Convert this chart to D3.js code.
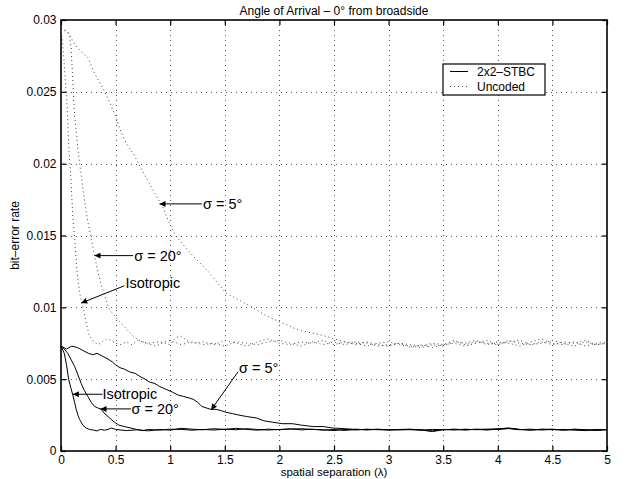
<!DOCTYPE html>
<html>
<head>
<meta charset="utf-8">
<script src="https://cdn.jsdelivr.net/npm/d3@7"></script>
<style>
  body { margin: 0; background: #fff; }
  svg { font-family: "Liberation Sans", Arial, Helvetica, sans-serif; }
</style>
</head>
<body>
<svg id="chart" width="627" height="479"></svg>
<script>
// tick values / labels
var xTicks = [0, 0.5, 1, 1.5, 2, 2.5, 3, 3.5, 4, 4.5, 5];
var xTickLabels = ["0", "0.5", "1", "1.5", "2", "2.5", "3", "3.5", "4", "4.5", "5"];
var yTicks = [0, 0.005, 0.01, 0.015, 0.02, 0.025, 0.03];
var yTickLabels = ["0", "0.005", "0.01", "0.015", "0.02", "0.025", "0.03"];

var legendNames = ["2x2\u2013STBC", "Uncoded"];

// 2x2-STBC (solid) curves, [spacing, ber]
var stbcIso = [[0,0.0073],[0.03,0.0068],[0.05,0.0060],[0.07,0.0050],[0.09,0.0044],[0.108,0.0039],[0.124,0.0034],
  [0.139,0.0029],[0.155,0.0025],[0.17,0.0022],[0.2,0.0018],[0.23,0.0016],[0.26,0.0015],[0.3,0.00145],[0.33,0.0014],
  [0.36,0.0015],[0.4,0.00145],[0.43,0.0015],[0.46,0.0016],[0.5,0.0015],[0.6,0.00142],[0.7,0.00148],[0.8,0.0014],
  [0.9,0.0015],[1.0,0.00145],[1.1,0.00158],[1.2,0.00152],[1.3,0.00148],[1.4,0.00155],[1.5,0.0015],[1.6,0.00158],
  [1.7,0.0015],[1.8,0.00145],[1.9,0.00152],[2.0,0.00148],[2.1,0.00155],[2.2,0.00147],[2.3,0.00152],[2.4,0.00145],
  [2.5,0.0015],[2.6,0.00143],[2.7,0.00152],[2.8,0.00147],[2.9,0.0015],[3.0,0.00145],[3.1,0.0015],[3.2,0.00152],
  [3.3,0.00146],[3.4,0.00135],[3.5,0.00148],[3.6,0.0015],[3.7,0.00146],[3.8,0.00152],[3.9,0.0015],[4.0,0.00155],
  [4.1,0.0016],[4.2,0.0015],[4.3,0.00145],[4.4,0.00152],[4.5,0.00148],[4.6,0.0015],[4.7,0.00145],[4.8,0.00142],
  [4.9,0.0015],[5.0,0.00147]];

var stbc20 = [[0,0.0073],[0.03,0.0071],[0.062,0.0068],[0.09,0.0064],[0.124,0.0059],[0.155,0.0053],[0.185,0.0047],
  [0.215,0.0042],[0.245,0.0038],[0.276,0.0034],[0.307,0.0031],[0.337,0.0030],[0.368,0.0029],[0.4,0.0026],[0.43,0.0024],
  [0.46,0.0022],[0.49,0.0020],[0.53,0.0018],[0.58,0.0017],[0.64,0.0016],[0.7,0.00148],[0.75,0.00142],[0.8,0.0015],
  [0.9,0.00145],[1.0,0.00152],[1.1,0.0015],[1.2,0.00145],[1.3,0.0015],[1.4,0.00146],[1.5,0.00152],[1.6,0.00148],
  [1.7,0.00155],[1.8,0.0015],[1.9,0.00146],[2.0,0.0015],[2.1,0.00152],[2.2,0.00155],[2.3,0.0015],[2.4,0.00148],
  [2.5,0.00142],[2.6,0.0015],[2.7,0.00146],[2.8,0.00152],[2.9,0.00148],[3.0,0.0015],[3.1,0.00146],[3.2,0.0015],
  [3.3,0.00148],[3.4,0.0014],[3.5,0.0015],[3.6,0.00146],[3.7,0.00152],[3.8,0.00148],[3.9,0.00152],[4.0,0.0015],
  [4.1,0.00156],[4.2,0.00148],[4.3,0.00152],[4.4,0.00146],[4.5,0.0015],[4.6,0.00145],[4.7,0.00152],[4.8,0.00148],
  [4.9,0.00145],[5.0,0.0015]];

var stbc5 = [[0,0.0073],[0.05,0.0071],[0.1,0.0073],[0.15,0.0072],[0.2,0.0070],[0.25,0.0068],[0.29,0.0067],[0.33,0.0068],
  [0.38,0.0066],[0.43,0.0064],[0.47,0.0062],[0.5,0.0060],[0.54,0.0058],[0.58,0.0057],[0.63,0.0055],[0.68,0.0054],
  [0.72,0.0052],[0.77,0.0050],[0.81,0.0048],[0.86,0.0047],[0.9,0.0045],[0.96,0.0043],[1.02,0.0041],[1.07,0.0039],
  [1.12,0.0038],[1.17,0.0037],[1.21,0.0036],[1.25,0.0034],[1.29,0.0031],[1.33,0.0030],[1.37,0.0029],[1.42,0.0029],
  [1.47,0.0028],[1.51,0.0027],[1.57,0.0026],[1.63,0.0025],[1.7,0.0024],[1.79,0.0023],[1.86,0.0021],[1.94,0.0020],
  [2.03,0.0019],[2.12,0.0019],[2.2,0.0018],[2.31,0.0017],[2.4,0.0017],[2.49,0.0016],[2.6,0.00155],[2.7,0.0015],
  [2.8,0.00148],[2.9,0.00152],[3.0,0.00147],[3.1,0.0015],[3.2,0.00148],[3.3,0.00145],[3.4,0.0015],[3.5,0.00148],
  [3.6,0.00152],[3.7,0.00148],[3.8,0.0015],[3.9,0.00146],[4.0,0.00152],[4.1,0.00158],[4.2,0.0015],[4.3,0.00146],
  [4.4,0.0015],[4.5,0.00152],[4.6,0.00146],[4.7,0.0015],[4.8,0.00148],[4.9,0.00143],[5.0,0.00148]];

// Uncoded (dotted) curves
var uncIso = [[0,0.0292],[0.01,0.0288],[0.025,0.0274],[0.04,0.0257],[0.057,0.0239],[0.065,0.0223],[0.075,0.0206],
  [0.09,0.0191],[0.108,0.0163],[0.124,0.0149],[0.145,0.0126],[0.17,0.0110],[0.2,0.0101],[0.23,0.0089],[0.26,0.0080],
  [0.3,0.0076],[0.34,0.0074],[0.38,0.0076],[0.42,0.0078],[0.46,0.0077],[0.5,0.0075],[0.55,0.0074],[0.6,0.0076],
  [0.65,0.0074],[0.7,0.0077],[0.8,0.0075],[0.9,0.0076],[1.0,0.0074],[1.05,0.0079],[1.1,0.0080],[1.15,0.0077],
  [1.2,0.0075],[1.3,0.0076],[1.4,0.0074],[1.5,0.0077],[1.6,0.0075],[1.7,0.0073],[1.8,0.0076],[1.9,0.0078],[2.0,0.0075],
  [2.1,0.0074],[2.2,0.0076],[2.3,0.0075],[2.4,0.0077],[2.5,0.0074],[2.6,0.0076],[2.7,0.0075],[2.8,0.0073],[2.9,0.0075],
  [3.0,0.0076],[3.1,0.0074],[3.2,0.0073],[3.3,0.0072],[3.4,0.0074],[3.5,0.0073],[3.6,0.0076],[3.7,0.0075],[3.8,0.0077],
  [3.9,0.0074],[4.0,0.0076],[4.1,0.0075],[4.2,0.0073],[4.3,0.0076],[4.4,0.0078],[4.5,0.0075],[4.6,0.0074],[4.7,0.0076],
  [4.8,0.0073],[4.9,0.0075],[5.0,0.0076]];

var unc20 = [[0,0.0292],[0.03,0.0293],[0.057,0.0292],[0.078,0.0288],[0.093,0.0281],[0.108,0.0257],[0.124,0.0234],
  [0.139,0.0223],[0.154,0.0211],[0.179,0.0195],[0.2,0.0183],[0.215,0.0174],[0.245,0.0160],[0.276,0.0148],[0.307,0.0136],
  [0.337,0.0125],[0.368,0.0116],[0.4,0.0108],[0.44,0.0099],[0.49,0.0094],[0.55,0.0089],[0.61,0.0084],[0.66,0.0080],
  [0.72,0.0077],[0.78,0.0075],[0.87,0.0073],[0.95,0.0076],[1.0,0.0077],[1.1,0.0074],[1.2,0.0076],[1.3,0.0074],
  [1.4,0.0075],[1.5,0.0073],[1.6,0.0076],[1.7,0.0075],[1.8,0.0074],[1.9,0.0076],[2.0,0.0077],[2.1,0.0075],[2.2,0.0073],
  [2.3,0.0076],[2.4,0.0074],[2.5,0.0076],[2.6,0.0074],[2.7,0.0076],[2.8,0.0075],[2.9,0.0073],[3.0,0.0074],[3.1,0.0075],
  [3.2,0.0072],[3.3,0.0074],[3.4,0.0072],[3.5,0.0074],[3.6,0.0075],[3.7,0.0073],[3.8,0.0075],[3.9,0.0077],[4.0,0.0074],
  [4.1,0.0076],[4.2,0.0077],[4.3,0.0074],[4.4,0.0075],[4.5,0.0077],[4.6,0.0075],[4.7,0.0073],[4.8,0.0076],[4.9,0.0074],
  [5.0,0.0075]];

var unc5 = [[0,0.0292],[0.03,0.0293],[0.069,0.0291],[0.124,0.0283],[0.185,0.0278],[0.245,0.0274],[0.3,0.0264],
  [0.35,0.0257],[0.4,0.0250],[0.45,0.0242],[0.5,0.0233],[0.55,0.0222],[0.6,0.0214],[0.67,0.0206],[0.73,0.0197],
  [0.84,0.0182],[0.93,0.0170],[0.99,0.0159],[1.05,0.0150],[1.18,0.0138],[1.36,0.0124],[1.51,0.0110],[1.73,0.0101],
  [1.88,0.0094],[2.03,0.0089],[2.18,0.0084],[2.37,0.0081],[2.46,0.0079],[2.55,0.0077],[2.6,0.0076],[2.7,0.0074],
  [2.8,0.0076],[2.9,0.0074],[3.0,0.0073],[3.1,0.0075],[3.2,0.0074],[3.3,0.0073],[3.4,0.0075],[3.5,0.0074],[3.6,0.0077],
  [3.7,0.0074],[3.8,0.0076],[3.9,0.0075],[4.0,0.0074],[4.1,0.0077],[4.2,0.0075],[4.3,0.0074],[4.4,0.0076],[4.5,0.0074],
  [4.6,0.0076],[4.7,0.0075],[4.8,0.0077],[4.9,0.0074],[5.0,0.0075]];

// annotations: arrow tip, arrow tail, label anchor (data units)
var notes = [
  { label: "\u03c3 = 5\u00b0",  tip: [0.902, 0.0172],  tail: [1.29, 0.0172],  at: [1.30, 0.0172] },
  { label: "\u03c3 = 20\u00b0", tip: [0.307, 0.0136],  tail: [0.66, 0.0136],  at: [0.67, 0.0136] },
  { label: "Isotropic",         tip: [0.185, 0.0103],  tail: [0.58, 0.0115],  at: [0.59, 0.0117] },
  { label: "\u03c3 = 5\u00b0",  tip: [1.375, 0.00286], tail: [1.62, 0.0055],  at: [1.63, 0.0058] },
  { label: "Isotropic",         tip: [0.108, 0.00395], tail: [0.38, 0.00395], at: [0.38, 0.00395] },
  { label: "\u03c3 = 20\u00b0", tip: [0.362, 0.00293], tail: [0.64, 0.00293], at: [0.645, 0.00293] }
];

var margin = { top: 20, left: 61, right: 20, bottom: 28 },
    width = 546,
    height = 431;

var svg = d3.select("#chart");

var x = d3.scaleLinear().domain([0, 5]).range([0, width]);
var y = d3.scaleLinear().domain([0, 0.03]).range([height, 0]);

var g = svg.append("g")
    .attr("transform", "translate(" + margin.left + "," + margin.top + ")");

// grid
g.append("g").selectAll("line")
    .data(xTicks.slice(1, -1))
  .enter().append("line")
    .attr("x1", function(d) { return Math.round(x(d)) + 0.5; })
    .attr("x2", function(d) { return Math.round(x(d)) + 0.5; })
    .attr("y1", 0).attr("y2", height)
    .style("stroke", "#555").style("stroke-dasharray", "1,4");

g.append("g").selectAll("line")
    .data(yTicks.slice(1, -1))
  .enter().append("line")
    .attr("y1", function(d) { return Math.round(y(d)) + 0.5; })
    .attr("y2", function(d) { return Math.round(y(d)) + 0.5; })
    .attr("x1", 0).attr("x2", width)
    .style("stroke", "#555").style("stroke-dasharray", "1,4");

// axes (ticks inward, mirrored on top/right)
var tickLen = 5;
var xAxisB = d3.axisBottom(x).tickValues(xTicks).tickSizeInner(-tickLen).tickSizeOuter(0).tickPadding(4)
    .tickFormat(function(d, i) { return xTickLabels[i]; });
var xAxisT = d3.axisTop(x).tickValues(xTicks).tickSizeInner(-tickLen).tickSizeOuter(0).tickFormat("");
var yAxisL = d3.axisLeft(y).tickValues(yTicks).tickSizeInner(-tickLen).tickSizeOuter(0).tickPadding(4.5)
    .tickFormat(function(d, i) { return yTickLabels[i]; });
var yAxisR = d3.axisRight(y).tickValues(yTicks).tickSizeInner(-tickLen).tickSizeOuter(0).tickFormat("");

function styleAxis(sel) {
  sel.select(".domain").remove();
  sel.selectAll("line").style("stroke", "#000").style("stroke-width", 1.2);
  sel.selectAll("text").style("font-size", "12px").style("fill", "#000")
     .style("font-family", "'Liberation Sans', Arial, Helvetica, sans-serif");
}

g.append("g").attr("transform", "translate(0," + height + ")").call(xAxisB).call(styleAxis);
g.append("g").call(xAxisT).call(styleAxis);
g.append("g").call(yAxisL).call(styleAxis);
g.append("g").attr("transform", "translate(" + width + ",0)").call(yAxisR).call(styleAxis);

g.append("rect")
    .attr("x", 0).attr("y", 0)
    .attr("width", width).attr("height", height)
    .style("fill", "none").style("stroke", "#000").style("stroke-width", 1.6);

// curves
var line = d3.line()
    .x(function(d) { return x(d[0]); })
    .y(function(d) { return y(d[1]); });

var plot = g.append("g");

[uncIso, unc20, unc5].forEach(function(s) {
  plot.append("path")
      .datum(s)
      .attr("d", line)
      .style("fill", "none")
      .style("stroke", "#444")
      .style("stroke-width", 1)
      .style("stroke-dasharray", "1,3");
});

[stbcIso, stbc20, stbc5].forEach(function(s) {
  plot.append("path")
      .datum(s)
      .attr("d", line)
      .style("fill", "none")
      .style("stroke", "#000")
      .style("stroke-width", 1);
});

// arrow annotations
svg.append("defs").append("marker")
    .attr("id", "arrow")
    .attr("viewBox", "0 0 10 10")
    .attr("refX", 10).attr("refY", 5)
    .attr("markerWidth", 9).attr("markerHeight", 6)
    .attr("markerUnits", "userSpaceOnUse")
    .attr("orient", "auto")
  .append("path")
    .attr("d", "M0,0L10,5L0,10z")
    .style("fill", "#000");

var ann = g.append("g").selectAll("g")
    .data(notes)
  .enter().append("g");

ann.append("line")
    .attr("x1", function(d) { return x(d.tail[0]); })
    .attr("y1", function(d) { return y(d.tail[1]); })
    .attr("x2", function(d) { return x(d.tip[0]); })
    .attr("y2", function(d) { return y(d.tip[1]); })
    .style("stroke", "#000")
    .style("stroke-width", 1)
    .attr("marker-end", "url(#arrow)");

ann.append("text")
    .attr("x", function(d) { return x(d.at[0]); })
    .attr("y", function(d) { return y(d.at[1]); })
    .attr("dy", "0.35em")
    .style("font-size", "14.5px")
    .text(function(d) { return d.label; });

// legend
var legend = g.append("g")
    .attr("transform", "translate(" + (443 - margin.left) + "," + (64 - margin.top) + ")");

legend.append("rect")
    .attr("width", 102).attr("height", 31)
    .style("fill", "#fff").style("stroke", "#000").style("stroke-width", 1.2);

legend.selectAll("line")
    .data(legendNames)
  .enter().append("line")
    .attr("x1", 7).attr("x2", 25)
    .attr("y1", function(d, i) { return 7.5 + i * 15; })
    .attr("y2", function(d, i) { return 7.5 + i * 15; })
    .style("stroke", function(d, i) { return i ? "#444" : "#000"; })
    .style("stroke-width", 1)
    .style("stroke-dasharray", function(d, i) { return i ? "1,3" : null; });

legend.selectAll("text")
    .data(legendNames)
  .enter().append("text")
    .attr("x", 34)
    .attr("y", function(d, i) { return 7.5 + i * 15; })
    .attr("dy", "0.35em")
    .style("font-size", "12px")
    .text(function(d) { return d; });

// titles
svg.append("text")
    .attr("x", margin.left + width / 2)
    .attr("y", 15)
    .attr("text-anchor", "middle")
    .style("font-size", "12px")
    .text("Angle of Arrival \u2013 0\u00b0 from broadside");

svg.append("text")
    .attr("x", margin.left + width / 2)
    .attr("y", 476.3)
    .attr("text-anchor", "middle")
    .style("font-size", "11.5px")
    .text("spatial separation (\u03bb)");

svg.append("text")
    .attr("transform", "translate(19," + (margin.top + height / 2) + ")rotate(-90)")
    .attr("text-anchor", "middle")
    .style("font-size", "12px")
    .text("bit\u2013error rate");
</script>
</body>
</html>
